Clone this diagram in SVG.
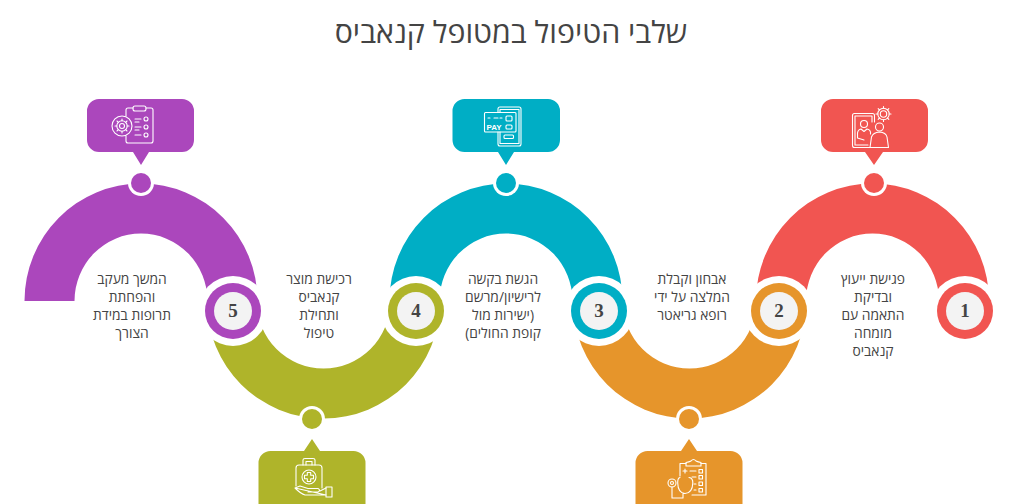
<svg xmlns="http://www.w3.org/2000/svg" width="1024" height="504" viewBox="0 0 1024 504">
<style>
text{font-family:"Open Sans","Liberation Sans",sans-serif;fill:#444;text-anchor:middle;direction:rtl}
.t{font-size:13.8px}
.title{font-size:30.3px;fill:#444}
.n{font-family:"Liberation Serif","DejaVu Serif",serif;font-size:19px;font-weight:700;direction:ltr;fill:#444}
.pay{font-family:"Liberation Sans",sans-serif;font-size:8px;font-weight:700;fill:#fff;direction:ltr}
.halo{fill:#fff}
.hub{fill:#f3f3f3}
.ic{fill:none;stroke:#fff;stroke-width:1.1;stroke-linejoin:round;stroke-linecap:round}
.red{fill:#f15551}.org{fill:#e6952b}.tea{fill:#00aec5}.oli{fill:#afb42a}.pur{fill:#ab47bc}
</style>
<rect width="1024" height="504" fill="#fff"/>
<text class="title" x="511" y="43">שלבי הטיפול במטופל קנאביס</text>
<g id="connectors">
<path class="pur" d="M24.500 301A116.500 117.500 0 0 1 257.500 301H207.500A66.500 67.500 0 0 0 74.500 301Z"/>
<path class="oli" d="M207 302A116.500 116.500 0 0 0 440 302H390A66.500 66.500 0 0 1 257 302Z"/>
<path class="tea" d="M389.500 301A116.500 117.500 0 0 1 622.500 301H572.500A66.500 67.500 0 0 0 439.500 301Z"/>
<path class="org" d="M573 302A116.500 116.500 0 0 0 806 302H756A66.500 66.500 0 0 1 623 302Z"/>
<path class="red" d="M756 301A116.500 117.500 0 0 1 989 301H939A66.500 67.500 0 0 0 806 301Z"/>
</g>
<g id="node1">
<circle class="halo" cx="965" cy="311" r="35"/><circle class="red" cx="965" cy="311" r="28"/><circle class="hub" cx="965" cy="311" r="19"/>
<text class="n" x="965" y="317">1</text>
<circle class="halo" cx="874" cy="183" r="13"/><circle class="red" cx="874" cy="183" r="10"/>
<path class="red" d="M833 99H916A12 12 0 0 1 928 111V140A12 12 0 0 1 916 152H883L874 165L865 152H833A12 12 0 0 1 821 140V111A12 12 0 0 1 833 99Z"/>
<g class="ic"><path d="M870 147.500H854.500Q852.500 147.500 852.500 145.500V115.500Q852.500 113.500 854.500 113.500H872.500Q874.500 113.500 874.500 115.500V122"/><path d="M868 145H855V116H872V122"/><circle cx="864" cy="124" r="3.500"/><path d="M857.500 138V133Q858 129.500 861 129L864 131.500L867 129Q870 129.500 870.500 132V134M857.500 138L864 140"/><circle cx="879.500" cy="127" r="4"/><path d="M870 147.500L871.500 137Q873 132.500 879.500 132Q886 132.500 887 137L888.500 147.500Z"/><circle cx="883.500" cy="114" r="3.200"/><circle cx="883.500" cy="114" r="5.700"/><path d="M883.500 106.500V108.300M883.500 119.700V121.500M876 114H877.800M889.200 114H891M878.200 108.700L879.500 110M887.500 118L888.800 119.300M878.200 119.300L879.500 118M887.500 110L888.800 108.700"/></g>
<text class="t" x="873" y="284">פגישת ייעוץ</text><text class="t" x="873" y="302">ובדיקת</text><text class="t" x="873" y="320">התאמה עם</text><text class="t" x="873" y="338">מומחה</text><text class="t" x="873" y="356">קנאביס</text>
</g>
<g id="node2">
<circle class="halo" cx="779" cy="311" r="35"/><circle class="org" cx="779" cy="311" r="28"/><circle class="hub" cx="779" cy="311" r="19"/>
<text class="n" x="779" y="317">2</text>
<circle class="halo" cx="689" cy="419" r="13"/><circle class="org" cx="689" cy="419" r="10"/>
<path class="org" d="M647.500 451H681L689 439L697 451H730.500A12 12 0 0 1 742.500 463V504H635.500V463A12 12 0 0 1 647.500 451Z"/>
<g class="ic"><path d="M680 476V463.500H686M701 463.500H706V495H692"/><path d="M686 466V462.500Q689 462 691 461Q693.500 458 696 461Q698 462 701 462.500V466Z"/><path d="M683 471H687M685 469V473"/><path d="M690 471H696M692 477H696M694 484H696M694 490H696"/><rect x="699" y="469.500" width="3.500" height="3.500"/><rect x="699" y="475.500" width="3.500" height="3.500"/><rect x="699" y="482" width="3.500" height="3.500"/><rect x="699" y="488.500" width="3.500" height="3.500"/><circle cx="672" cy="483" r="4"/><circle cx="672" cy="483" r="1.500"/><path d="M672 487V498H683V493M680 477.500Q677.500 478 677.700 483Q678 493 685 493.500Q692.500 493 692.800 483Q693 478 689 477.500"/></g>
<text class="t" x="692" y="284">אבחון וקבלת</text><text class="t" x="692" y="302">המלצה על ידי</text><text class="t" x="692" y="320">רופא גריאטר</text>
</g>
<g id="node3">
<circle class="halo" cx="599" cy="311" r="35"/><circle class="tea" cx="599" cy="311" r="28"/><circle class="hub" cx="599" cy="311" r="19"/>
<text class="n" x="599" y="317">3</text>
<circle class="halo" cx="506" cy="183" r="13"/><circle class="tea" cx="506" cy="183" r="10"/>
<path class="tea" d="M464.500 99H548A12 12 0 0 1 560 111V140A12 12 0 0 1 548 152H514L506 165L498 152H464.500A12 12 0 0 1 452.500 140V111A12 12 0 0 1 464.500 99Z"/>
<g class="ic"><path d="M498 112V109Q498 107 500 107H519Q521 107 521 109V144Q521 146 519 146H500Q498 146 498 144V132"/><path d="M500 112V109.500H519V143.500H500V132"/><rect x="484.500" y="112.500" width="31.500" height="19.500" rx="1"/><rect x="506" y="116" width="6" height="5" rx="1"/><rect x="506" y="125" width="6" height="4" rx="1"/><rect x="504" y="135" width="9.500" height="3.500" rx="1"/><path d="M488 118H490M494 118H498M500 118H502"/></g>
<text class="pay" x="494" y="130">PAY</text>
<text class="t" x="503" y="284">הגשת בקשה</text><text class="t" x="503" y="302">לרישיון/מרשם</text><text class="t" x="503" y="320">(ישירות מול</text><text class="t" x="503" y="338">קופת החולים)</text>
</g>
<g id="node4">
<circle class="halo" cx="416" cy="311" r="35"/><circle class="oli" cx="416" cy="311" r="28"/><circle class="hub" cx="416" cy="311" r="19"/>
<text class="n" x="416" y="317">4</text>
<circle class="halo" cx="312" cy="419" r="13"/><circle class="oli" cx="312" cy="419" r="10"/>
<path class="oli" d="M270.500 451H304L312 439L320 451H353.500A12 12 0 0 1 365.500 463V504H258.500V463A12 12 0 0 1 270.500 451Z"/>
<g class="ic"><path d="M296 486V468Q296 465 299 465H319Q322 465 322 468V488"/><path d="M303 465V460Q303 458.500 305 458.500H313Q315 458.500 315 460V465M306 465V461.500H312V465"/><circle cx="309" cy="477" r="7"/><path d="M307.300 472.500H310.700V475.300H313.500V478.700H310.700V481.500H307.300V478.700H304.500V475.300H307.300Z"/><path d="M295 488L300 486L308 488.500H318Q321 490 318 492H308M320 491L326 488M326 495H305Q301 494 295 488Z"/><rect x="326" y="487" width="6" height="10"/></g>
<text class="t" x="319" y="284">רכישת מוצר</text><text class="t" x="319" y="302">קנאביס</text><text class="t" x="319" y="320">ותחילת</text><text class="t" x="319" y="338">טיפול</text>
</g>
<g id="node5">
<circle class="halo" cx="233" cy="311" r="35"/><circle class="pur" cx="233" cy="311" r="28"/><circle class="hub" cx="233" cy="311" r="19"/>
<text class="n" x="233" y="317">5</text>
<circle class="halo" cx="141" cy="183" r="13"/><circle class="pur" cx="141" cy="183" r="10"/>
<path class="pur" d="M99 99H182A12 12 0 0 1 194 111V140A12 12 0 0 1 182 152H149L141 165L133 152H99A12 12 0 0 1 87 140V111A12 12 0 0 1 99 99Z"/>
<g class="ic"><path d="M126 116V110Q126 108 128 108H133M146 108H151Q153 108 153 110V141Q153 143 151 143H128Q126 143 126 141V136"/><rect x="133" y="106" width="13" height="5" rx="2"/><circle cx="122" cy="126" r="10"/><circle cx="122" cy="126" r="2.500"/><circle cx="122" cy="126" r="5.200"/><path d="M122 119V120.800M122 131.200V133M115 126H116.800M127.200 126H129M117 121L118.300 122.300M125.700 129.700L127 131M117 131L118.300 129.700M125.700 122.300L127 121"/><path d="M135 119H141M135 122H139M135 127H141M135 130H139M135 135H141"/><circle cx="146" cy="119" r="2"/><circle cx="146" cy="127" r="2"/><circle cx="146" cy="135" r="2"/></g>
<text class="t" x="132" y="284">המשך מעקב</text><text class="t" x="132" y="302">והפחתת</text><text class="t" x="132" y="320">תרופות במידת</text><text class="t" x="132" y="338">הצורך</text>
</g>
</svg>
